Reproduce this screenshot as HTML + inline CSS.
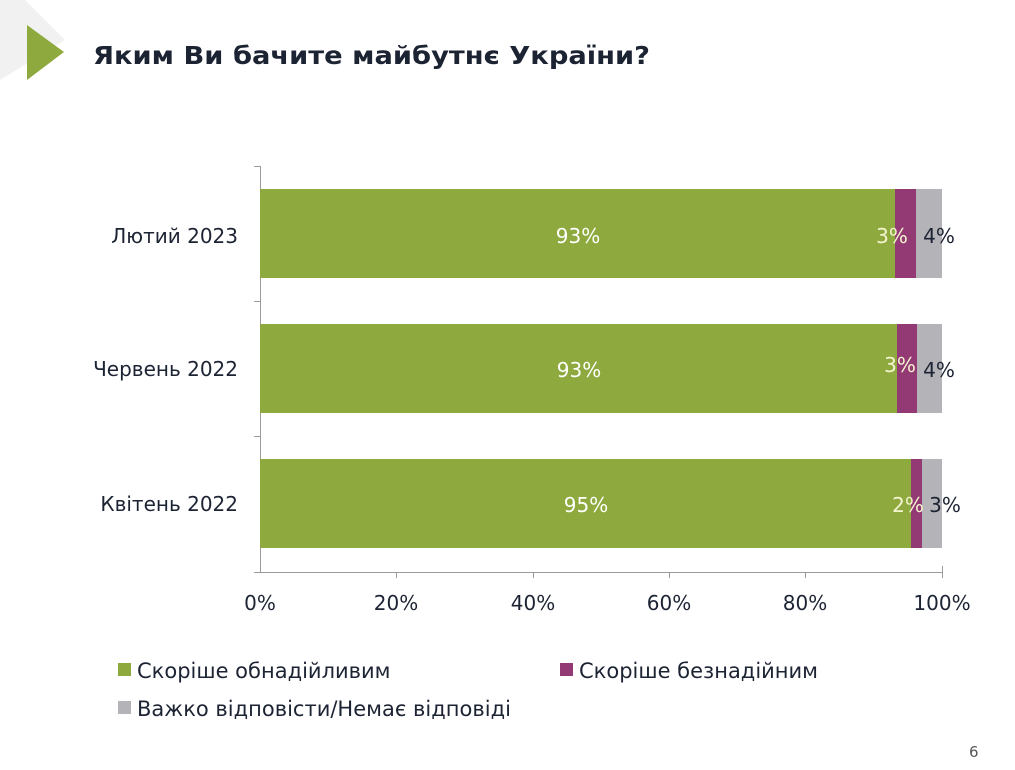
<!DOCTYPE html>
<html><head><meta charset="utf-8"><style>
body{margin:0;width:1015px;height:766px;background:#fff;overflow:hidden;font-family:"DejaVu Sans","Liberation Sans",sans-serif;}
</style></head><body>
<svg width="1015" height="766" xmlns="http://www.w3.org/2000/svg" font-family="DejaVu Sans, Liberation Sans, sans-serif">
<rect width="1015" height="766" fill="#fff"/>
<polygon points="0,0 25,0 65,40 0,80" fill="#f1f1f1"/>
<polygon points="27,25 64,52 27,80" fill="#8eaa3e"/>
<text x="93" y="64" font-size="25" font-weight="bold" fill="#1c2333" textLength="557" lengthAdjust="spacingAndGlyphs">Яким Ви бачите майбутнє України?</text>
<g stroke="#9a9a9a" stroke-width="1">
<line x1="260.5" y1="166" x2="260.5" y2="572"/>
<line x1="254" y1="166.5" x2="260" y2="166.5"/>
<line x1="254" y1="301.5" x2="260" y2="301.5"/>
<line x1="254" y1="436.5" x2="260" y2="436.5"/>
<line x1="254" y1="572.5" x2="942" y2="572.5"/>
<line x1="396.5" y1="572" x2="396.5" y2="578"/>
<line x1="533.5" y1="572" x2="533.5" y2="578"/>
<line x1="669.5" y1="572" x2="669.5" y2="578"/>
<line x1="805.5" y1="572" x2="805.5" y2="578"/>
<line x1="942.5" y1="566" x2="942.5" y2="578"/>
</g>
<rect x="260" y="189" width="635" height="89" fill="#8eaa3e"/>
<rect x="895" y="189" width="21" height="89" fill="#933a74"/>
<rect x="916" y="189" width="26" height="89" fill="#b4b3b7"/>
<rect x="260" y="324" width="637" height="89" fill="#8eaa3e"/>
<rect x="897" y="324" width="20" height="89" fill="#933a74"/>
<rect x="917" y="324" width="25" height="89" fill="#b4b3b7"/>
<rect x="260" y="459" width="651" height="89" fill="#8eaa3e"/>
<rect x="911" y="459" width="11" height="89" fill="#933a74"/>
<rect x="922" y="459" width="20" height="89" fill="#b4b3b7"/>
<g font-size="20" fill="#fff" text-anchor="middle">
<text x="578" y="243">93%</text>
<text x="579" y="377">93%</text>
<text x="586" y="512">95%</text>
<text x="892" y="243" fill="#f4f4d0">3%</text>
<text x="900" y="372" fill="#f4f4d0">3%</text>
<text x="908" y="512" fill="#f4f4d0">2%</text>
</g>
<g font-size="20" fill="#1c2333" text-anchor="middle">
<text x="939" y="243">4%</text>
<text x="939" y="377">4%</text>
<text x="945" y="512">3%</text>
</g>
<g font-size="20" fill="#1c2333" text-anchor="end">
<text x="238" y="243">Лютий 2023</text>
<text x="238" y="376">Червень 2022</text>
<text x="238" y="511">Квітень 2022</text>
</g>
<g font-size="20" fill="#1c2333" text-anchor="middle">
<text x="260" y="610">0%</text>
<text x="396" y="610">20%</text>
<text x="533" y="610">40%</text>
<text x="669" y="610">60%</text>
<text x="805" y="610">80%</text>
<text x="942" y="610">100%</text>
</g>
<g font-size="21" fill="#1c2333">
<rect x="118" y="663" width="13" height="13" fill="#8eaa3e"/>
<text x="137" y="678">Скоріше обнадійливим</text>
<rect x="560" y="663" width="13" height="13" fill="#933a74"/>
<text x="579" y="678">Скоріше безнадійним</text>
<rect x="118" y="701" width="13" height="13" fill="#b4b3b7"/>
<text x="137" y="716">Важко відповісти/Немає відповіді</text>
</g>
<text x="969" y="757" font-size="15" fill="#555">6</text>
</svg>
</body></html>
